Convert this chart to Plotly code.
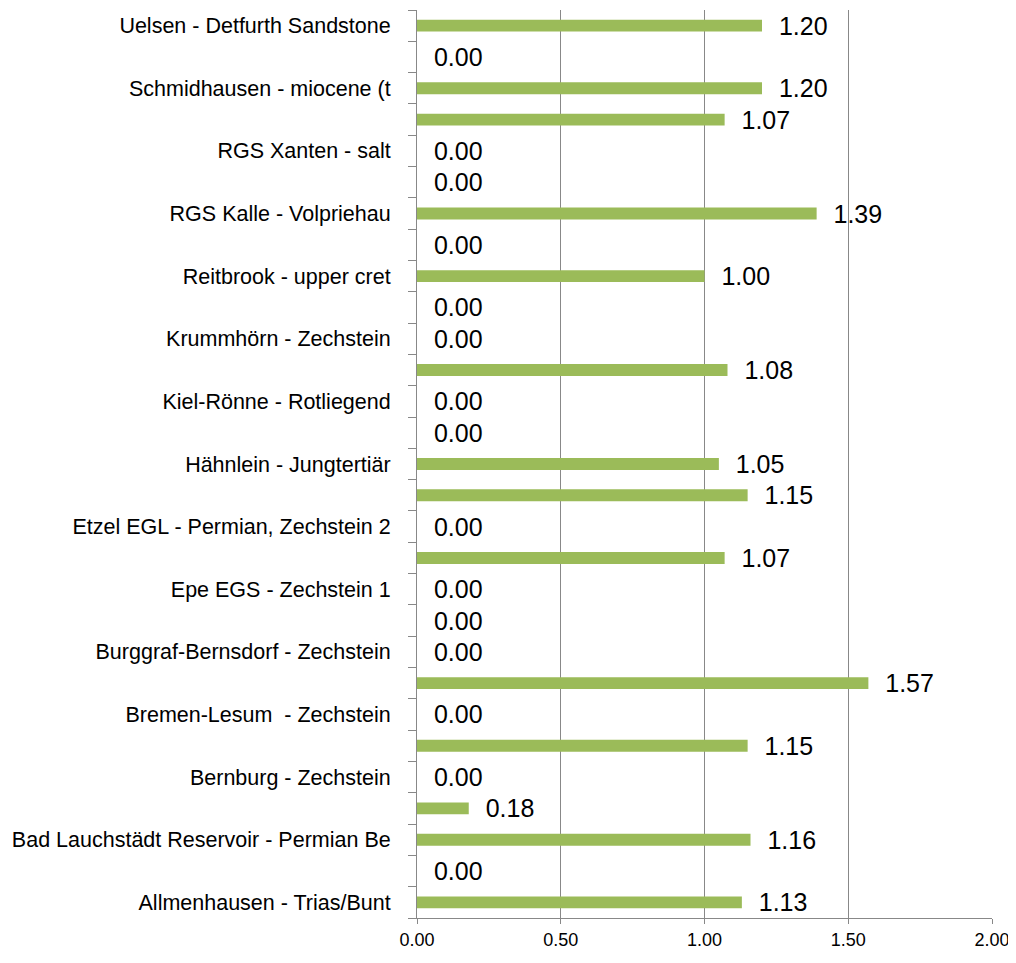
import plotly.graph_objects as go

# Category labels (shown on every other row, from bottom to top)
labels = [
    "Allmenhausen - Trias/Bunt",
    "Bad Lauchstädt Reservoir - Permian Be",
    "Bernburg - Zechstein",
    "Bremen-Lesum\u00a0 - Zechstein",
    "Burggraf-Bernsdorf - Zechstein",
    "Epe EGS - Zechstein 1",
    "Etzel EGL - Permian, Zechstein 2",
    "Hähnlein - Jungtertiär",
    "Kiel-Rönne - Rotliegend",
    "Krummhörn - Zechstein",
    "Reitbrook - upper cret",
    "RGS Kalle - Volpriehau",
    "RGS Xanten - salt",
    "Schmidhausen - miocene (t",
    "Uelsen - Detfurth Sandstone",
]

# Values per row, from bottom (row 0) to top (row 28)
values = [1.13, 0.00, 1.16, 0.18, 0.00, 1.15, 0.00, 1.57, 0.00, 0.00,
          0.00, 1.07, 0.00, 1.15, 1.05, 0.00, 0.00, 1.08, 0.00, 0.00,
          1.00, 0.00, 1.39, 0.00, 0.00, 1.07, 1.20, 0.00, 1.20]

rows = list(range(len(values)))
label_rows = rows[::2]

x_ticks = [0, 0.5, 1.0, 1.5, 2.0]

FONT = "Liberation Sans, Arial, sans-serif"

fig = go.Figure()
fig.add_trace(go.Bar(
    x=values,
    y=rows,
    orientation="h",
    marker=dict(color="#9BBB59", line=dict(width=0)),
    text=["\u00a0\u00a0" + f"{v:.2f}" for v in values],
    textposition="outside",
    constraintext="none",
    cliponaxis=False,
    textfont=dict(family=FONT, size=25, color="#000000"),
    width=0.38,
    hoverinfo="skip",
))

# The page body adds an 8 px offset; size and margins compensate for it.
fig.update_layout(
    width=1008,
    height=955,
    margin=dict(l=409, r=24, t=2, b=45),
    paper_bgcolor="white",
    plot_bgcolor="white",
    showlegend=False,
    xaxis=dict(
        range=[0, 2.0],
        tickvals=x_ticks,
        tickformat=".2f",
        automargin=False,
        showgrid=True,
        gridcolor="#888888",
        gridwidth=1,
        zeroline=False,
        showline=True,
        linecolor="#888888",
        linewidth=1,
        ticks="outside",
        ticklen=5,
        tickcolor="#888888",
        tickfont=dict(family=FONT, size=18, color="#000000"),
    ),
    yaxis=dict(
        range=[-0.5, len(values) - 0.5],
        tickvals=label_rows,
        ticktext=labels,
        automargin=False,
        showgrid=False,
        zeroline=False,
        showline=True,
        linecolor="#888888",
        linewidth=1,
        ticks="outside",
        ticklen=0,
        ticklabelstandoff=21,
        minor=dict(
            tick0=-0.5,
            dtick=1,
            ticks="outside",
            ticklen=8,
            tickcolor="#888888",
            showgrid=False,
        ),
        tickfont=dict(family=FONT, size=21.5, color="#000000"),
    ),
)

fig.write_html("out.html")
